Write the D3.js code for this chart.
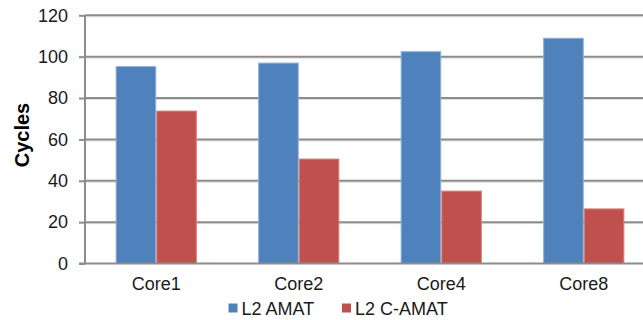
<!DOCTYPE html>
<html>
<head>
<meta charset="utf-8">
<script src="https://cdn.jsdelivr.net/npm/d3@7"></script>
<style>
  html, body { margin: 0; padding: 0; background: #fff; }
  svg { display: block; font-family: "Liberation Sans", Arial, sans-serif; }
</style>
</head>
<body>
<svg id="chart" width="643" height="320"></svg>
<script>
// Average memory access time per core configuration
const categories = ["Core1", "Core2", "Core4", "Core8"];
const seriesNames = ["L2 AMAT", "L2 C-AMAT"];
const amat = [95.2, 96.9, 102.4, 108.9];
const camat = [73.7, 50.5, 35.0, 26.4];
const yTicks = [0, 20, 40, 60, 80, 100, 120];
const colors = ["#4F81BD", "#C0504D"];
const edgeColors = ["#8FB0DA", "#D9837F"];

const rows = categories.map((c, i) => ({ cat: c, values: [amat[i], camat[i]] }));

const svg = d3.select("#chart");
const plotLeft = 85, plotRight = 655, plotTop = 15.3, plotBottom = 263.5;

const y = d3.scaleLinear().domain([0, 120]).range([plotBottom, plotTop]);
const x0 = d3.scaleBand().domain(categories).range([plotLeft, plotRight])
  .paddingInner(0.43).paddingOuter(0.215);
const x1 = d3.scaleBand().domain([0, 1]).range([0, x0.bandwidth()]);

// gridlines with a soft shadow underneath
const grid = svg.append("g");
yTicks.filter(t => t > 0).forEach(t => {
  grid.append("line").attr("x1", plotLeft).attr("x2", 643)
    .attr("y1", y(t) + 1.5).attr("y2", y(t) + 1.5)
    .attr("stroke", "#e0e0e0").attr("stroke-width", 1);
  grid.append("line").attr("x1", plotLeft).attr("x2", 643)
    .attr("y1", y(t)).attr("y2", y(t))
    .attr("stroke", "#8c8c8c").attr("stroke-width", 2);
});

// bars
const groups = svg.append("g").selectAll("g").data(rows).join("g")
  .attr("transform", d => `translate(${x0(d.cat)},0)`);
groups.selectAll("rect").data(d => d.values.map((v, i) => ({ v, i })))
  .join("rect")
  .attr("x", d => x1(d.i) + 0.5)
  .attr("width", x1.bandwidth() - 1)
  .attr("y", d => y(d.v))
  .attr("height", d => plotBottom - y(d.v))
  .attr("fill", d => colors[d.i])
  .attr("stroke", d => edgeColors[d.i])
  .attr("stroke-width", 1);

// y axis
const yAxis = d3.axisLeft(y).tickValues(yTicks).tickSize(6).tickPadding(11);
const ya = svg.append("g").attr("transform", `translate(${plotLeft},0)`).call(yAxis);
ya.select(".domain").attr("stroke", "#8c8c8c").attr("stroke-width", 2)
  .attr("d", `M0,${plotTop}V${plotBottom}`);
ya.selectAll(".tick line").attr("stroke", "#8c8c8c").attr("stroke-width", 2);
ya.selectAll(".tick text").attr("font-size", 18).attr("fill", "#1a1a1a")
  .attr("font-family", "Liberation Sans, Arial, sans-serif");

// x axis
const xAxis = d3.axisBottom(x0).tickSize(0).tickPadding(14);
const xa = svg.append("g").attr("transform", `translate(0,${plotBottom})`).call(xAxis);
xa.select(".domain").attr("stroke", "#8c8c8c").attr("stroke-width", 2)
  .attr("d", `M${plotLeft - 6},0H643`);
xa.selectAll(".tick text").attr("font-size", 18).attr("fill", "#1a1a1a")
  .attr("font-family", "Liberation Sans, Arial, sans-serif");

// axis title
svg.append("text")
  .attr("transform", "translate(29,135) rotate(-90)")
  .attr("text-anchor", "middle")
  .attr("font-size", 20).attr("font-weight", "bold").attr("fill", "#000")
  .text("Cycles");

// legend
const legendX = [228.5, 342];
const legend = svg.append("g");
seriesNames.forEach((name, i) => {
  legend.append("rect").attr("x", legendX[i]).attr("y", 303.5)
    .attr("width", 9).attr("height", 9).attr("fill", colors[i]);
  legend.append("text").attr("x", legendX[i] + 13).attr("y", 314.5)
    .attr("font-size", 18).attr("fill", "#1a1a1a").text(name);
});
</script>
</body>
</html>
